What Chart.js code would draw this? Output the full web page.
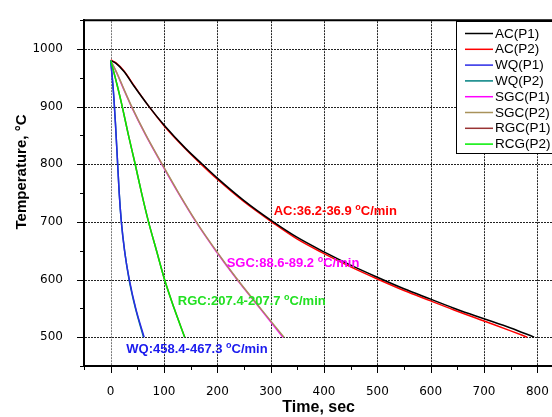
<!DOCTYPE html>
<html>
<head>
  <title>Cooling curves</title>
  <script src="https://cdn.jsdelivr.net/npm/chart.js"></script>
  <style>
    body { margin: 0; background: #fff; overflow: hidden; }
    canvas { display: block; }
  </style>
</head>
<body>
  <canvas id="coolChart" width="560" height="417"></canvas>

  <script>
    // cooling curves, time in sec / temperature in degC
    const acP1Time  = [0, 10, 25, 45, 72, 100, 140, 172, 200, 250, 305, 350, 400, 450, 500, 550, 600, 650, 700, 750, 794];
    const acP1Temp  = [980, 975, 961, 934, 900, 868, 828, 800, 776, 737, 700, 673, 648, 625, 604, 584, 566, 548, 532, 516, 500];
    const acP2Time  = [0, 10, 25, 45, 72, 100, 140, 172, 200, 250, 305, 350, 400, 450, 500, 550, 600, 650, 700, 750, 781];
    const acP2Temp  = [981, 976, 962, 935, 900, 867, 827, 798, 774, 735, 698, 670, 645, 622, 601, 581, 563, 545, 528, 511, 500];
    const wqP1Time  = [0, 3, 6, 9, 12.5, 16, 20, 26, 35, 47, 62.8];
    const wqP1Temp  = [980, 950, 915, 870, 810, 750, 700, 650, 600, 550, 500];
    const wqP2Time  = [0, 3, 6, 9, 12.5, 16, 20, 26, 34.5, 46.5, 61.6];
    const wqP2Temp  = [980, 951, 916, 871, 811, 751, 701, 651, 600, 550, 500];
    const sgcP1Time = [0, 5, 12, 25, 39, 66, 96, 127, 160, 197, 237, 280, 323];
    const sgcP1Temp = [980, 971, 957, 929, 900, 850, 800, 750, 700, 650, 600, 550, 500];
    const sgcP2Time = [0, 5, 12, 25, 39, 66, 96, 127, 160, 197, 237, 281, 325];
    const sgcP2Temp = [980, 971, 958, 930, 901, 851, 801, 751, 701, 651, 601, 550, 500];
    const rgcP1Time = [0, 5, 12, 21, 33, 46, 58, 71, 86, 101, 119, 138.9];
    const rgcP1Temp = [980, 963, 938, 903, 852, 800, 750, 700, 650, 600, 550, 500];
    const rgcP2Time = [0, 5, 12, 21, 33, 46, 58, 71, 86, 101, 119, 138.7];
    const rgcP2Temp = [980, 963, 938, 903, 852, 800, 750, 700, 650, 600, 550, 500];

    // axes: labelled ticks, tick marks every 50
    const xLabels = [0, 100, 200, 300, 400, 500, 600, 700, 800];
    const yLabels = [500, 600, 700, 800, 900, 1000];
    const xMin = -50, xMax = 830;
    const yMin = 450, yMax = 1050;

    // rate labels, anchored in data units
    const rateLabels = [
      { text: 'AC:36.2-36.9',    t: 305.6, T: 711.5, color: '#ff0000' },
      { text: 'SGC:88.6-89.2',   t: 217.5, T: 621.4, color: '#ff00ff' },
      { text: 'RGC:207.4-207.7', t: 126,   T: 555,   color: '#22e022' },
      { text: 'WQ:458.4-467.3',  t: 29.4,  T: 471.9, color: '#1a1aee' }
    ];

    const pts = (ts, vs) => ts.map((t, i) => ({ x: t, y: vs[i] }));
    const line = (label, ts, vs, color, order) => ({
      label, data: pts(ts, vs), borderColor: color, backgroundColor: color,
      borderWidth: 1.5, pointRadius: 0, fill: false,
      cubicInterpolationMode: 'monotone', order
    });

    const datasets = [
      line('AC(P1)',  acP1Time,  acP1Temp,  '#000000', 3),
      line('AC(P2)',  acP2Time,  acP2Temp,  '#ff0000', 4),
      line('WQ(P1)',  wqP1Time,  wqP1Temp,  '#2a2ae6', 1),
      line('WQ(P2)',  wqP2Time,  wqP2Temp,  '#008080', 2),
      line('SGC(P1)', sgcP1Time, sgcP1Temp, '#ff00ff', 2),
      line('SGC(P2)', sgcP2Time, sgcP2Temp, '#a8925a', 1),
      line('RGC(P1)', rgcP1Time, rgcP1Temp, '#993333', 2),
      line('RCG(P2)', rgcP2Time, rgcP2Temp, '#00ee00', 0)
    ];

    const isMajor = v => v % 100 === 0;
    const stepTicks = (lo, hi) => {
      const out = [];
      for (let v = lo; v <= hi; v += 50) out.push({ value: v });
      return out;
    };

    const extras = {
      id: 'extras',
      beforeDatasetsDraw(chart) {
        // dotted grid at labelled ticks
        const { ctx, chartArea: a, scales: { x, y } } = chart;
        ctx.save();
        ctx.lineWidth = 1;
        ctx.setLineDash([2, 1]);
        xLabels.forEach(v => {
          const px = Math.round(x.getPixelForValue(v)) + 0.5;
          ctx.strokeStyle = v === 0 ? '#777' : '#222';
          ctx.beginPath();
          ctx.moveTo(px, a.top + 1);
          ctx.lineTo(px, a.bottom - 1);
          ctx.stroke();
        });
        ctx.strokeStyle = '#222';
        ctx.beginPath();
        yLabels.forEach(v => {
          const py = Math.round(y.getPixelForValue(v)) + 0.5;
          ctx.moveTo(a.left + 1, py);
          ctx.lineTo(a.right, py);
        });
        ctx.stroke();
        ctx.restore();
      },
      afterDraw(chart) {
        const { ctx, chartArea: a, scales: { x, y } } = chart;
        ctx.save();

        // tick marks (major / minor)
        ctx.strokeStyle = '#000';
        ctx.lineWidth = 1;
        ctx.beginPath();
        x.ticks.forEach(t => {
          const px = Math.round(x.getPixelForValue(t.value)) + 0.5;
          ctx.moveTo(px, a.bottom);
          ctx.lineTo(px, a.bottom + (isMajor(t.value) ? 7 : 4));
        });
        y.ticks.forEach(t => {
          const py = Math.round(y.getPixelForValue(t.value)) + 0.5;
          ctx.moveTo(a.left, py);
          ctx.lineTo(a.left - (isMajor(t.value) ? 7 : 4), py);
        });
        ctx.stroke();

        // top frame line
        ctx.lineWidth = 2;
        ctx.beginPath();
        ctx.moveTo(a.left - 1, a.top);
        ctx.lineTo(a.right, a.top);
        ctx.stroke();

        // y title
        ctx.save();
        ctx.translate(26, 172);
        ctx.rotate(-Math.PI / 2);
        ctx.fillStyle = '#000';
        ctx.textAlign = 'center';
        ctx.textBaseline = 'alphabetic';
        ctx.font = 'bold 15px Arial';
        ctx.fillText('Temperature, °C', 0, 0);
        ctx.restore();

        // rate labels
        rateLabels.forEach(r => {
          let px = x.getPixelForValue(r.t);
          const py = y.getPixelForValue(r.T);
          ctx.fillStyle = r.color;
          ctx.textAlign = 'left';
          ctx.textBaseline = 'alphabetic';
          ctx.font = 'bold 13px Arial';
          ctx.fillText(r.text + ' ', px, py);
          px += ctx.measureText(r.text + ' ').width;
          ctx.font = 'bold 9px Arial';
          ctx.fillText('o', px, py - 5);
          px += ctx.measureText('o').width;
          ctx.font = 'bold 13px Arial';
          ctx.fillText('C/min', px, py);
        });

        // legend box
        const lx = 456, ly = 21, rowH = 15.8;
        ctx.fillStyle = '#fff';
        ctx.fillRect(lx, ly, 120, 132);
        ctx.strokeStyle = '#000';
        ctx.lineWidth = 1;
        ctx.strokeRect(lx + 0.5, ly + 0.5, 120, 132);
        chart.data.datasets.forEach((ds, i) => {
          const cy = ly + 12.5 + i * rowH;
          ctx.strokeStyle = ds.borderColor;
          ctx.lineWidth = 1.5;
          ctx.beginPath();
          ctx.moveTo(465, cy);
          ctx.lineTo(493, cy);
          ctx.stroke();
          ctx.save();
          ctx.translate(495, cy);
          ctx.scale(1.04, 1);
          ctx.fillStyle = '#000';
          ctx.font = '13px Arial';
          ctx.textBaseline = 'middle';
          ctx.fillText(ds.label, 0, 0.5);
          ctx.restore();
        });

        ctx.restore();
      }
    };

    const tickFont = { family: 'DejaVu Sans', size: 12 };

    new Chart(document.getElementById('coolChart'), {
      type: 'line',
      data: { datasets },
      options: {
        responsive: false,
        animation: false,
        devicePixelRatio: 1,
        layout: { padding: { top: 13, right: 6, left: 0, bottom: 0 } },
        plugins: { legend: { display: false }, tooltip: { enabled: false } },
        scales: {
          x: {
            type: 'linear',
            min: xMin, max: xMax,
            afterBuildTicks: s => { s.ticks = stepTicks(-50, 800); },
            afterFit: s => { s.height = 51; },
            ticks: {
              color: '#000', font: tickFont, padding: 11,
              maxRotation: 0, autoSkip: false,
              callback: v => xLabels.includes(v) ? v : ''
            },
            grid: { display: false },
            border: { display: true, color: '#000', width: 2 },
            title: {
              display: true, text: 'Time, sec', color: '#000',
              font: { family: 'Arial', weight: 'bold', size: 16 },
              padding: { top: 0, bottom: 0 }
            }
          },
          y: {
            min: yMin, max: yMax,
            afterBuildTicks: s => { s.ticks = stepTicks(450, 1050); },
            afterFit: s => { s.width = 84; },
            ticks: {
              color: '#000', font: tickFont, padding: 13,
              autoSkip: false,
              callback: v => yLabels.includes(v) ? v : ''
            },
            grid: { display: false },
            border: { display: true, color: '#000', width: 2 }
          }
        }
      },
      plugins: [extras]
    });
  </script>
</body>
</html>
